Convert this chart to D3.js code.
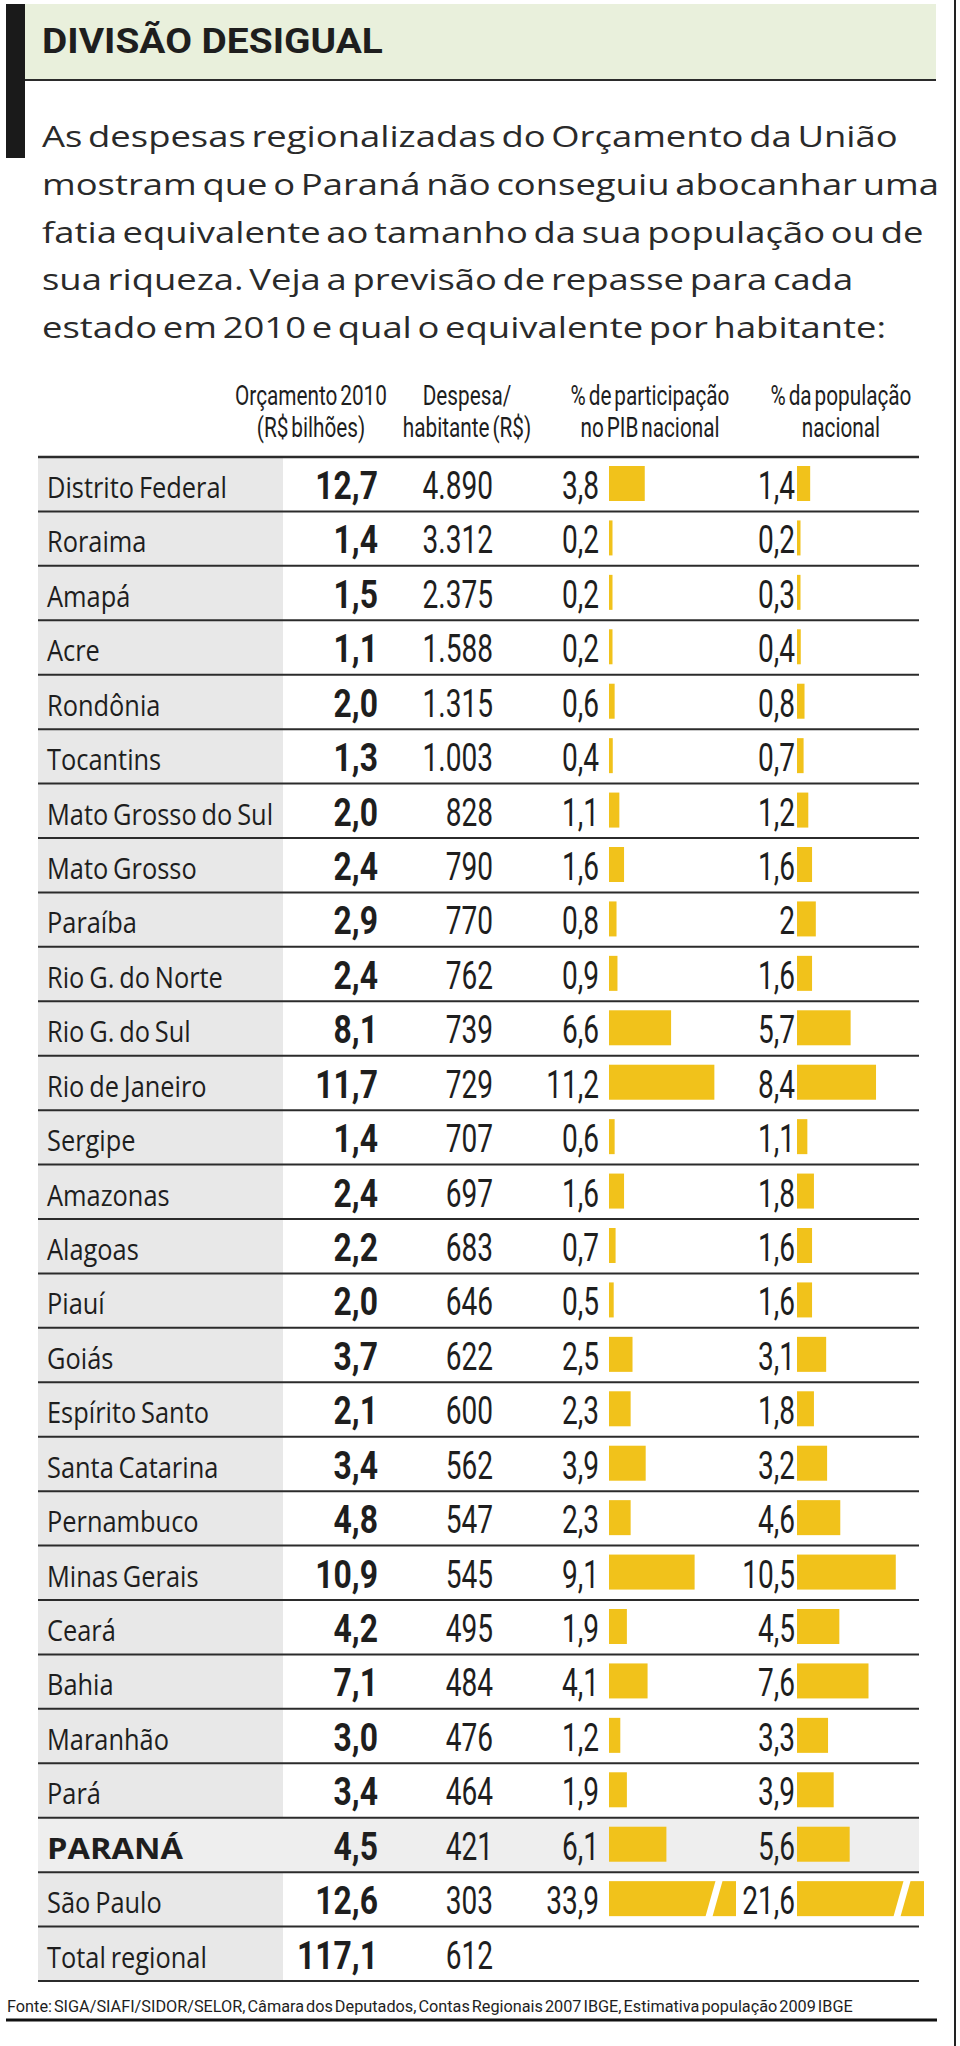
<!DOCTYPE html>
<html>
<head>
<meta charset="utf-8">
<script src="https://cdn.jsdelivr.net/npm/d3@7"></script>
<style>
  html, body { margin: 0; padding: 0; background: #fff; }
  svg { display: block; }
</style>
</head>
<body>
<script>
// dados: Orçamento da União 2010, despesas regionalizadas
const estados = ['Distrito Federal', 'Roraima', 'Amapá', 'Acre', 'Rondônia', 'Tocantins',
  'Mato Grosso do Sul', 'Mato Grosso', 'Paraíba', 'Rio G. do Norte', 'Rio G. do Sul',
  'Rio de Janeiro', 'Sergipe', 'Amazonas', 'Alagoas', 'Piauí', 'Goiás', 'Espírito Santo',
  'Santa Catarina', 'Pernambuco', 'Minas Gerais', 'Ceará', 'Bahia', 'Maranhão', 'Pará',
  'PARANÁ', 'São Paulo', 'Total regional']
const orcamento = [12.7, 1.4, 1.5, 1.1, 2.0, 1.3, 2.0, 2.4, 2.9, 2.4, 8.1, 11.7, 1.4, 2.4,
  2.2, 2.0, 3.7, 2.1, 3.4, 4.8, 10.9, 4.2, 7.1, 3.0, 3.4, 4.5, 12.6, 117.1]
const despesa = [4890, 3312, 2375, 1588, 1315, 1003, 828, 790, 770, 762, 739, 729, 707, 697,
  683, 646, 622, 600, 562, 547, 545, 495, 484, 476, 464, 421, 303, 612]
const pib = [3.8, 0.2, 0.2, 0.2, 0.6, 0.4, 1.1, 1.6, 0.8, 0.9, 6.6, 11.2, 0.6, 1.6, 0.7, 0.5,
  2.5, 2.3, 3.9, 2.3, 9.1, 1.9, 4.1, 1.2, 1.9, 6.1, 33.9, null]
const populacao = [1.4, 0.2, 0.3, 0.4, 0.8, 0.7, 1.2, 1.6, 2, 1.6, 5.7, 8.4, 1.1, 1.8, 1.6,
  1.6, 3.1, 1.8, 3.2, 4.6, 10.5, 4.5, 7.6, 3.3, 3.9, 5.6, 21.6, null]
const destaque = 'PARANÁ'

const titulo = 'DIVISÃO DESIGUAL'
const texto = [
  'As despesas regionalizadas do Orçamento da União',
  'mostram que o Paraná não conseguiu abocanhar uma',
  'fatia equivalente ao tamanho da sua população ou de',
  'sua riqueza. Veja a previsão de repasse para cada',
  'estado em 2010 e qual o equivalente por habitante:'
]
const cabecalhos = [
  ['Orçamento 2010', '(R$ bilhões)'],
  ['Despesa/', 'habitante (R$)'],
  ['% de participação', 'no PIB nacional'],
  ['% da população', 'nacional']
]
const fonte = 'Fonte: SIGA/SIAFI/SIDOR/SELOR, Câmara dos Deputados, Contas Regionais 2007 IBGE, Estimativa população 2009 IBGE'

const W = 960, H = 2046
const INK = '#1e1e1e'
const AMARELO = '#f1c21b'
const SANS = "'Open Sans', 'Noto Sans', sans-serif"
const COND = "Roboto, 'Liberation Sans', sans-serif"

const ptBR = d3.formatLocale({ decimal: ',', thousands: '.', grouping: [3], currency: ['R$', ''] })
const fmtOrc = ptBR.format('.1f')
const fmtDesp = ptBR.format(',d')
const fmtPct = ptBR.format('.1~f')

const rows = estados.map((nome, i) => ({
  nome, orc: orcamento[i], desp: despesa[i], pib: pib[i], pop: populacao[i]
}))

const svg = d3.select('body').append('svg')
  .attr('width', W)
  .attr('height', H)

function styled(t, style) {
  return t.attr('font-family', style.family)
    .attr('font-size', style.size)
    .attr('font-weight', style.weight || 400)
    .attr('word-spacing', style.ws || 0)
}

// mede um texto e devolve o fator horizontal que o faz caber na largura pedida
function fit(style, sample, width) {
  const t = styled(svg.append('text'), style).text(sample)
  const len = t.node().getComputedTextLength()
  t.remove()
  return width / len
}

function label(g, x, y, str, style, sx, anchor) {
  return styled(g.append('text'), style)
    .attr('transform', `translate(${x},${y}) scale(${sx},1)`)
    .attr('text-anchor', anchor || 'start')
    .attr('fill', style.fill || INK)
    .text(str)
}

const sTitle = { family: COND, size: 35, weight: 700 }
const sPara = { family: SANS, size: 29, fill: '#2a2a2a', ws: -3 }
const sHead = { family: COND, size: 28, ws: -3 }
const sName = { family: SANS, size: 29, ws: -2 }
const sNameBold = { family: SANS, size: 29, weight: 700 }
const sNum = { family: COND, size: 39 }
const sNumBold = { family: COND, size: 39, weight: 700 }
const sSource = { family: COND, size: 16, ws: -2 }

const kTitle = fit(sTitle, titulo, 341)
const kPara = fit(sPara, texto[0], 856)
const kHead = fit(sHead, cabecalhos[0][0], 152)
const kName = fit(sName, estados[0], 180)
const kNameBold = fit(sNameBold, destaque, 136)
const kNum = fit(sNum, fmtDesp(despesa[0]), 70.5)
const kNumBold = fit(sNumBold, fmtOrc(orcamento[orcamento.length - 1]), 81)
const kSource = fit(sSource, fonte, 846)

// cabeçalho
svg.append('rect').attr('x', 25).attr('y', 4).attr('width', 911).attr('height', 76)
  .attr('fill', '#e9f0dc')
svg.append('line').attr('x1', 25).attr('x2', 936).attr('y1', 80).attr('y2', 80)
  .attr('stroke', '#2b2b2b').attr('stroke-width', 2)
svg.append('rect').attr('x', 6).attr('y', 4).attr('width', 19).attr('height', 154)
  .attr('fill', '#1a1a1a')
svg.append('line').attr('x1', 955).attr('x2', 955).attr('y1', 0).attr('y2', H)
  .attr('stroke', '#222').attr('stroke-width', 2)

label(svg, 42, 53, titulo, sTitle, kTitle)

const paraY = d3.scalePoint().domain(d3.range(texto.length)).range([147, 338])
texto.forEach((line, i) => label(svg, 42, paraY(i), line, sPara, kPara))

// tabela
const y = d3.scaleBand().domain(estados).range([457, 1981])
const xBar = d3.scaleLinear().domain([0, 13.5]).range([0, 127]).clamp(true)
const colCenter = [311, 467, 650, 841]

cabecalhos.forEach((lines, c) => {
  lines.forEach((s, j) => label(svg, colCenter[c], 405 + j * 32, s, sHead, kHead, 'middle'))
})

const table = svg.append('g')

const row = table.selectAll('g.row')
  .data(rows)
  .join('g')
  .attr('class', 'row')
  .attr('transform', d => `translate(0,${y(d.nome)})`)

row.append('rect')
  .attr('x', 38)
  .attr('y', 0)
  .attr('width', d => d.nome === destaque ? 881 : 245)
  .attr('height', y.bandwidth())
  .attr('fill', d => d.nome === destaque ? '#eeeeee' : '#e8e8e8')

row.each(function (d) {
  const g = d3.select(this)
  if (d.nome === destaque) label(g, 47, 41, d.nome, sNameBold, kNameBold)
  else label(g, 47, 41, d.nome, sName, kName)
  label(g, 378, 42, fmtOrc(d.orc), sNumBold, kNumBold, 'end')
  label(g, 493, 42, fmtDesp(d.desp), sNum, kNum, 'end')

  const cols = [{ v: d.pib, tx: 599, bx: 609 }, { v: d.pop, tx: 795, bx: 797 }]
  cols.forEach(c => {
    if (c.v == null) return
    label(g, c.tx, 42, fmtPct(c.v), sNum, kNum, 'end')
    const w = Math.max(3.5, xBar(c.v))
    g.append('rect')
      .attr('x', c.bx).attr('y', 9)
      .attr('width', w).attr('height', 35)
      .attr('fill', AMARELO)
    if (c.v > xBar.domain()[1]) {
      // barra cortada: valor fora da escala
      const cx = c.bx + w - 22
      g.append('polygon')
        .attr('points', [[cx - 9, 46], [cx - 2, 46], [cx + 9, 7], [cx + 2, 7]].join(' '))
        .attr('fill', '#fff')
    }
  })
})

// linhas da tabela
const bounds = estados.map(s => y(s)).concat([y.range()[1]])
table.selectAll('line.sep')
  .data(bounds)
  .join('line')
  .attr('class', 'sep')
  .attr('x1', 38).attr('x2', 919)
  .attr('y1', d => d).attr('y2', d => d)
  .attr('stroke', '#2b2b2b')
  .attr('stroke-width', (d, i) => i === 0 ? 2.5 : 2)

// fonte
label(svg, 7, 2012, fonte, sSource, kSource)
svg.append('line').attr('x1', 6).attr('x2', 937).attr('y1', 2020).attr('y2', 2020)
  .attr('stroke', '#111').attr('stroke-width', 3)
</script>
</body>
</html>
